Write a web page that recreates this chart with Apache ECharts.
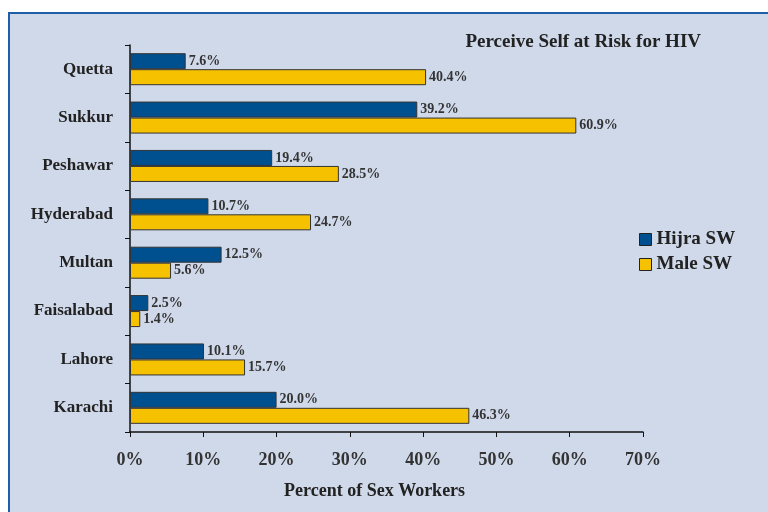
<!DOCTYPE html>
<html><head><meta charset="utf-8">
<script src="https://cdn.jsdelivr.net/npm/echarts@6/dist/echarts.min.js"></script>
<style>html,body{margin:0;padding:0;background:#fff}#c{width:768px;height:512px}</style>
</head><body><div id="c"></div>
<script>
const categories = ['Quetta','Sukkur','Peshawar','Hyderabad','Multan','Faisalabad','Lahore','Karachi'];
const hijraSW = [7.6, 39.2, 19.4, 10.7, 12.5, 2.5, 10.1, 20.0];
const maleSW = [40.4, 60.9, 28.5, 24.7, 5.6, 1.4, 15.7, 46.3];
const seriesNames = ['Hijra SW','Male SW'];
const titleText = 'Perceive Self at Risk for HIV';
const xAxisName = 'Percent of Sex Workers';

const FONT = '"Liberation Serif", "DejaVu Serif", serif';
const chart = echarts.init(document.getElementById('c'));
const lbl = {show:true, position:'right', distance:3, fontFamily:FONT, fontWeight:'bold', fontSize:14, color:'#333',
  formatter: p => p.value.toFixed(1) + '%'};
chart.setOption({
  backgroundColor:'#fff',
  animation:false,
  graphic:[{type:'rect', z:-10, shape:{x:9, y:13, width:780, height:520},
    style:{fill:'#d0d9ea', stroke:'#1f5fa8', lineWidth:2}}],
  title:[
    {text:titleText, right:62, top:28, textStyle:{fontFamily:FONT, fontWeight:'bold', fontSize:19, color:'#222'}},
    {text:xAxisName, left:279, top:477, textStyle:{fontFamily:FONT, fontWeight:'bold', fontSize:18, color:'#222'}}
  ],
  legend:{orient:'vertical', left:634, top:225, itemWidth:12, itemHeight:12, itemGap:6, icon:'rect',
    textStyle:{fontFamily:FONT, fontWeight:'bold', fontSize:19, color:'#222', padding:[0,0,0,0]},
    itemStyle:{borderColor:'#222', borderWidth:1},
    data:seriesNames},
  grid:{left:130, right:125, top:45, bottom:80},
  xAxis:{type:'value', min:0, max:70, interval:10,
    axisLine:{show:true, lineStyle:{color:'#111', width:1.5}},
    axisTick:{show:true, length:5, lineStyle:{color:'#111'}},
    splitLine:{show:false},
    axisLabel:{formatter:'{value}%', margin:19, fontFamily:FONT, fontWeight:'bold', fontSize:18, color:'#333'}},
  yAxis:{type:'category', data:categories, inverse:true,
    axisLine:{show:true, lineStyle:{color:'#111', width:1.5}},
    axisTick:{show:true, length:5, lineStyle:{color:'#111'}},
    axisLabel:{margin:17, fontFamily:FONT, fontWeight:'bold', fontSize:17, color:'#222'}},
  series:[
    {name:seriesNames[0], type:'bar', data:hijraSW, barWidth:16, barGap:'0%',
      itemStyle:{color:'#00508f', borderColor:'#333', borderWidth:1}, label:lbl},
    {name:seriesNames[1], type:'bar', data:maleSW, barWidth:16,
      itemStyle:{color:'#f6c200', borderColor:'#333', borderWidth:1}, label:lbl}
  ]
});
</script></body></html>
